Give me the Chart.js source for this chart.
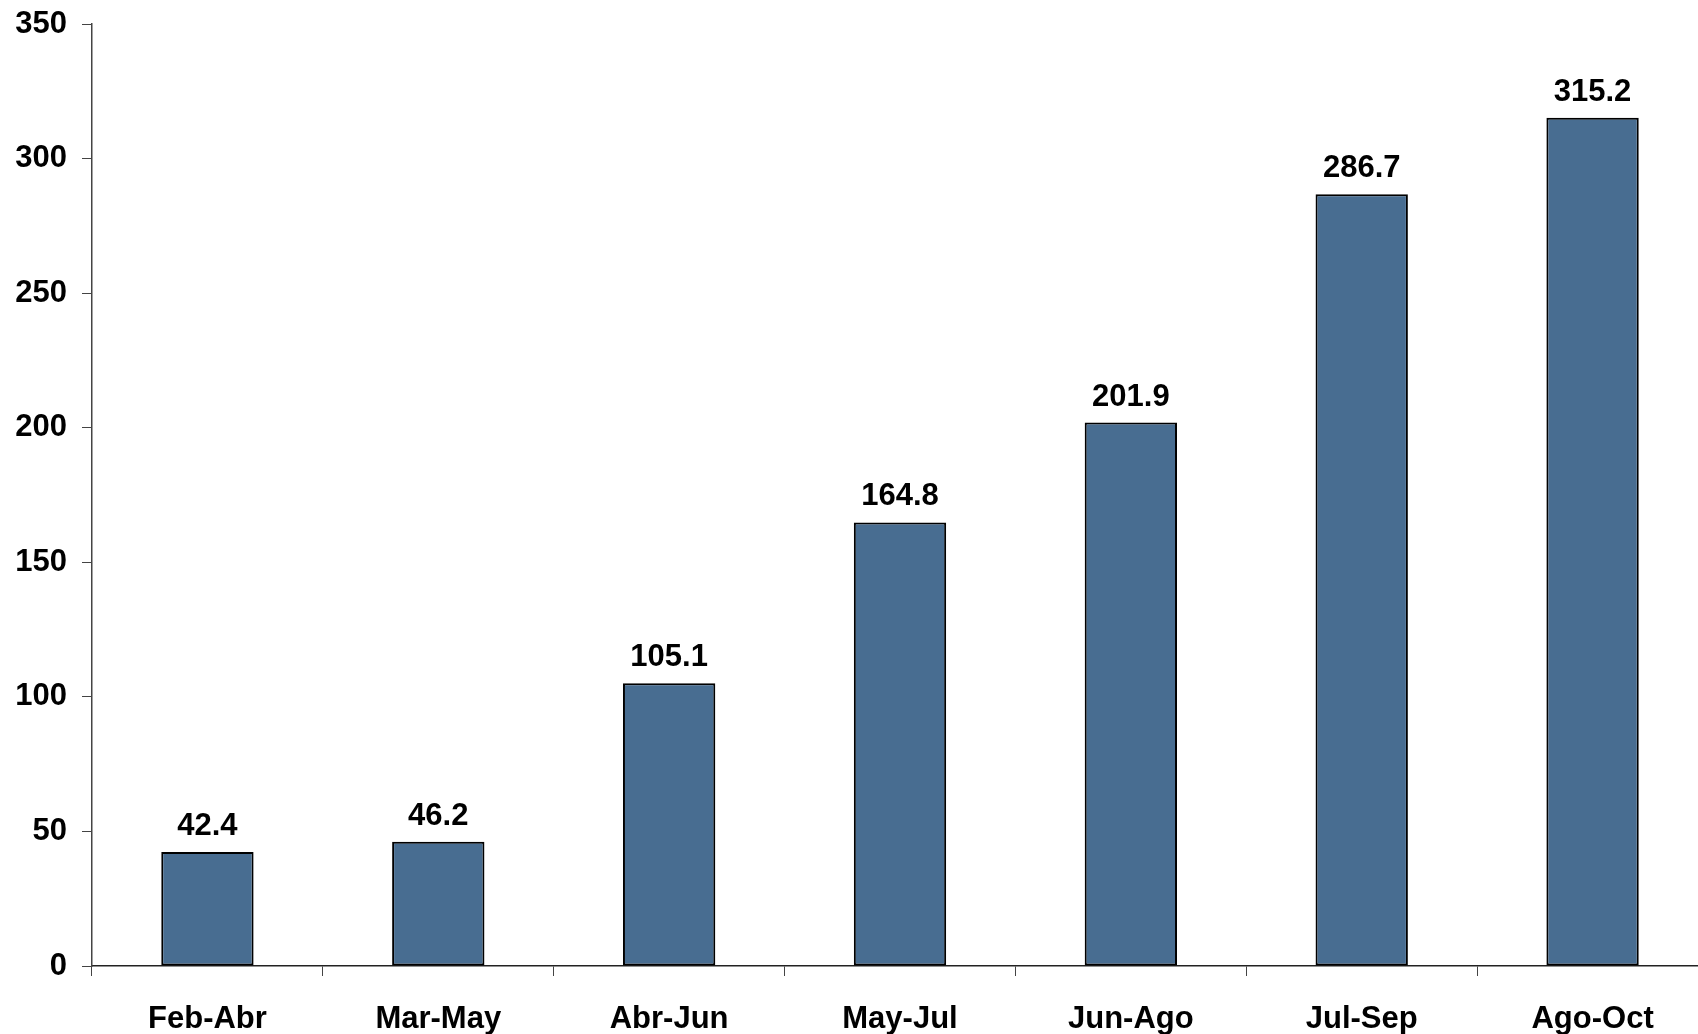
<!DOCTYPE html>
<html>
<head>
<meta charset="utf-8">
<script src="https://cdn.jsdelivr.net/npm/chart.js@4/dist/chart.umd.min.js"></script>
<style>
  html, body { margin: 0; padding: 0; background: #fff; overflow: hidden; }
  #wrap { width: 1708px; height: 1034px; }
</style>
</head>
<body>
<div id="wrap"><canvas id="chart" width="1708" height="1034"></canvas></div>
<script>
// data
const categories = ['Feb-Abr', 'Mar-May', 'Abr-Jun', 'May-Jul', 'Jun-Ago', 'Jul-Sep', 'Ago-Oct'];
const values = [42.4, 46.2, 105.1, 164.8, 201.9, 286.7, 315.2];
const yTicks = [0, 50, 100, 150, 200, 250, 300, 350];

const FONT = "'Liberation Sans', Arial, sans-serif";
const AXIS = '#444';

// value labels above each bar
const barLabels = {
  id: 'barLabels',
  afterDatasetsDraw(chart) {
    const ctx = chart.ctx;
    const meta = chart.getDatasetMeta(0);
    ctx.save();
    ctx.font = 'bold 31px ' + FONT;
    ctx.fillStyle = '#000';
    ctx.textAlign = 'center';
    ctx.textBaseline = 'alphabetic';
    meta.data.forEach((bar, i) => {
      ctx.fillText(values[i].toFixed(1), bar.x, bar.y - 17);
    });
    ctx.restore();
  }
};

new Chart(document.getElementById('chart').getContext('2d'), {
  type: 'bar',
  data: {
    labels: categories,
    datasets: [{
      data: values,
      backgroundColor: '#486d91',
      borderColor: '#000',
      borderWidth: 2,
      borderSkipped: false,
      barPercentage: 0.4,
      categoryPercentage: 1.0
    }]
  },
  options: {
    responsive: false,
    animation: false,
    devicePixelRatio: 1,
    layout: { padding: { top: 24, left: 0, right: 0, bottom: 0 } },
    plugins: {
      legend: { display: false },
      tooltip: { enabled: false }
    },
    scales: {
      x: {
        grid: {
          offset: true,
          drawOnChartArea: false,
          drawTicks: true,
          tickLength: 10,
          color: AXIS
        },
        border: { display: true, color: '#222', width: 1.5 },
        ticks: {
          color: '#000',
          padding: 25,
          font: { family: FONT, size: 31, weight: 'bold' }
        },
        afterFit(scale) { scale.height = 68; }
      },
      y: {
        min: 0,
        max: 350,
        afterBuildTicks(scale) { scale.ticks = yTicks.map(v => ({ value: v })); },
        grid: {
          drawOnChartArea: false,
          drawTicks: true,
          tickLength: 10,
          color: AXIS
        },
        border: { display: true, color: AXIS, width: 1.5 },
        ticks: {
          color: '#000',
          padding: 15,
          font: { family: FONT, size: 31, weight: 'bold' }
        },
        afterFit(scale) {
          scale.width = 92;
          scale.paddingTop = 0;
          scale.paddingBottom = 0;
        }
      }
    }
  },
  plugins: [barLabels]
});
</script>
</body>
</html>
